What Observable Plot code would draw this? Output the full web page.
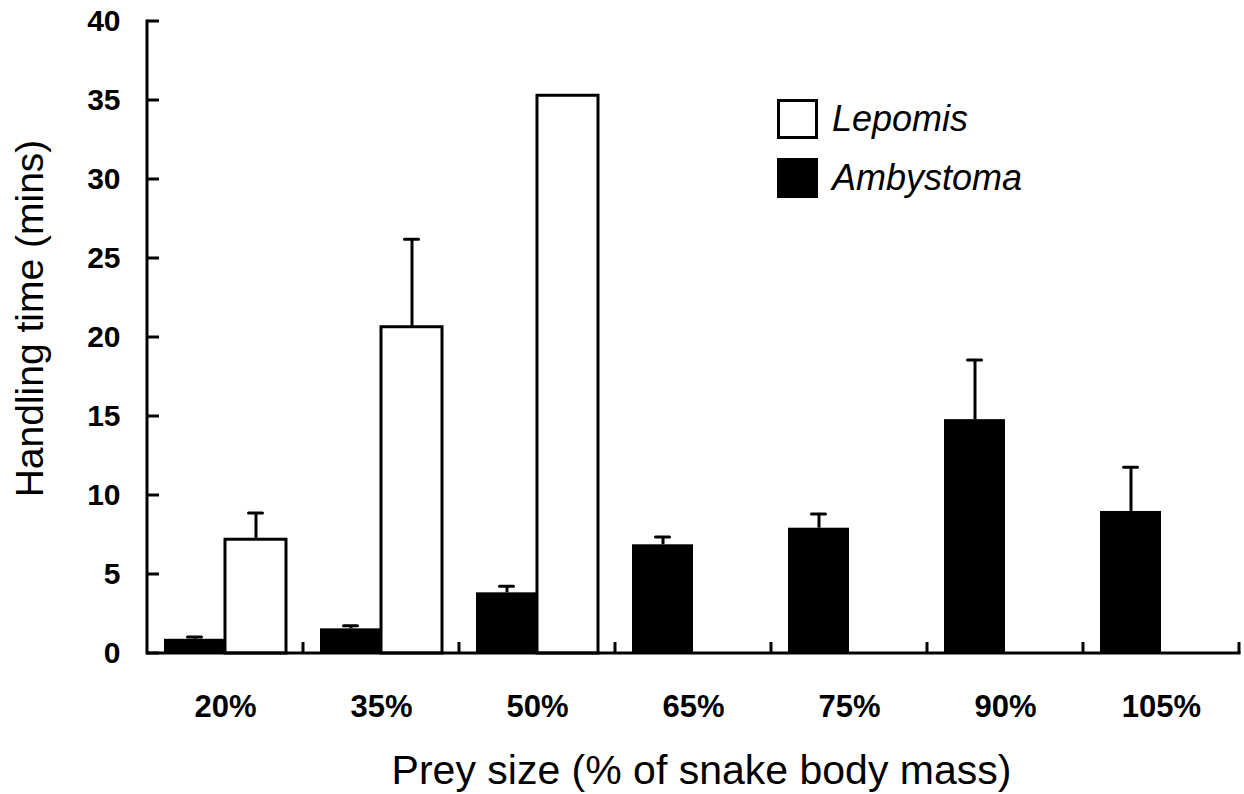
<!DOCTYPE html>
<html>
<head>
<meta charset="utf-8">
<script src="https://cdn.jsdelivr.net/npm/d3@7"></script>
<script src="https://cdn.jsdelivr.net/npm/@observablehq/plot@0.6"></script>
<style>
  html, body { margin: 0; padding: 0; background: #fff; }
  #wrap { position: relative; width: 1244px; height: 794px; font-family: "Liberation Sans", Arial, sans-serif; }
  #legend { position: absolute; left: 777px; top: 99px; font-family: "Liberation Sans", Arial, sans-serif; font-style: italic; font-size: 36px; color: #000; }
  #legend .row { display: flex; align-items: center; height: 40px; margin-bottom: 19px; }
  #legend .sw { width: 41px; height: 40px; box-sizing: border-box; margin-right: 14px; }
</style>
</head>
<body>
<div id="wrap"><div id="legend"></div></div>
<script>
// ---- data ----
const categories = ["20%", "35%", "50%", "65%", "75%", "90%", "105%"];
const series = ["Ambystoma", "Lepomis"];
const ambystomaMean = [0.9, 1.56, 3.84, 6.88, 7.93, 14.8, 8.99];
const ambystomaSE   = [0.14, 0.2, 0.42, 0.5, 0.9, 3.78, 2.8];
const lepomisMean   = [7.2, 20.65, 35.3, null, null, null, null];
const lepomisSE     = [1.7, 5.57, null, null, null, null, null];
const yTicks = [0, 5, 10, 15, 20, 25, 30, 35, 40];
const yTitle = "Handling time (mins)";
const xTitle = "Prey size (% of snake body mass)";

const rows = categories.flatMap((c, i) => [
  {cat: c, series: "Ambystoma", mean: ambystomaMean[i], se: ambystomaSE[i]},
  {cat: c, series: "Lepomis", mean: lepomisMean[i], se: lepomisSE[i]}
]).filter(d => d.mean != null);
const withErr = rows.filter(d => d.se != null).map(d => ({...d, upper: d.mean + d.se}));

// custom axis lines: y axis with inward ticks, x axis with upward ticks between groups
function axisLines(index, scales, values, dimensions) {
  const {fx, y} = scales;
  const {marginLeft, marginRight, width} = dimensions;
  const g = d3.create("svg:g").attr("stroke", "black").attr("stroke-width", 3).attr("fill", "none");
  const x0 = marginLeft, x1 = width - marginRight, y0 = y(0);
  g.append("line").attr("x1", x0).attr("x2", x0).attr("y1", y(40) - 1.5).attr("y2", y0 + 1.5);
  for (const t of yTicks) {
    g.append("line").attr("x1", x0).attr("x2", x0 + 12).attr("y1", y(t)).attr("y2", y(t));
  }
  g.append("line").attr("x1", x0).attr("x2", x1 + 1.5).attr("y1", y0).attr("y2", y0);
  const bw = typeof fx.bandwidth === "function" ? fx.bandwidth() : fx.bandwidth;
  const bounds = categories.slice(1).map(c => fx(c)).concat([fx(categories[categories.length - 1]) + bw]);
  for (const bx of bounds) {
    g.append("line").attr("x1", bx).attr("x2", bx).attr("y1", y0).attr("y2", y0 - 11);
  }
  return g.node();
}

const chart = Plot.plot({
  width: 1244,
  height: 794,
  marginLeft: 145,
  marginRight: 4,
  marginTop: 21,
  marginBottom: 141,
  style: {fontFamily: "'Liberation Sans', Arial, sans-serif", background: "#fff", color: "#000"},
  fx: {domain: categories, padding: 0},
  x: {domain: series, paddingInner: 0, paddingOuter: 0.26, axis: null},
  y: {domain: [0, 40]},
  marks: [
    Plot.barY(rows.filter(d => d.series === "Ambystoma"), {fx: "cat", x: "series", y: "mean", fill: "black"}),
    Plot.barY(rows.filter(d => d.series === "Lepomis"), {fx: "cat", x: "series", y: "mean", fill: "white", stroke: "black", strokeWidth: 3}),
    Plot.ruleX(withErr, {fx: "cat", x: "series", y1: "mean", y2: "upper", stroke: "black", strokeWidth: 3}),
    Plot.tickY(withErr, {fx: "cat", x: "series", y: "upper", stroke: "black", strokeWidth: 3, insetLeft: 23.5, insetRight: 23.5, strokeLinecap: "round"}),
    Plot.axisY({ticks: yTicks, tickSize: 0, tickPadding: 27, fontSize: 30, fontWeight: "bold", label: null}),
    Plot.text([yTitle], {facet: "super", frameAnchor: "left", rotate: -90, lineAnchor: "top", textAnchor: "middle",
      dx: -132, dy: -19, fontSize: 39}),
    Plot.axisFx({anchor: "bottom", tickSize: 0, tickPadding: 41, fontSize: 31, fontWeight: "bold", label: null}),
    Plot.text([xTitle], {facet: "super", frameAnchor: "bottom", lineAnchor: "bottom", textAnchor: "middle",
      dx: 8, dy: 130, fontSize: 41}),
    Plot.frame({facet: "super", render: axisLines})
  ]
});
const wrap = document.getElementById("wrap");
wrap.insertBefore(chart, wrap.firstChild);

// legend
const legend = d3.select("#legend");
const legendItems = [
  {name: "Lepomis", fill: "white"},
  {name: "Ambystoma", fill: "black"}
];
for (const it of legendItems) {
  const row = legend.append("div").attr("class", "row");
  row.append("div").attr("class", "sw").style("background", it.fill).style("border", "3px solid black");
  row.append("span").text(it.name);
}
</script>
</body>
</html>
